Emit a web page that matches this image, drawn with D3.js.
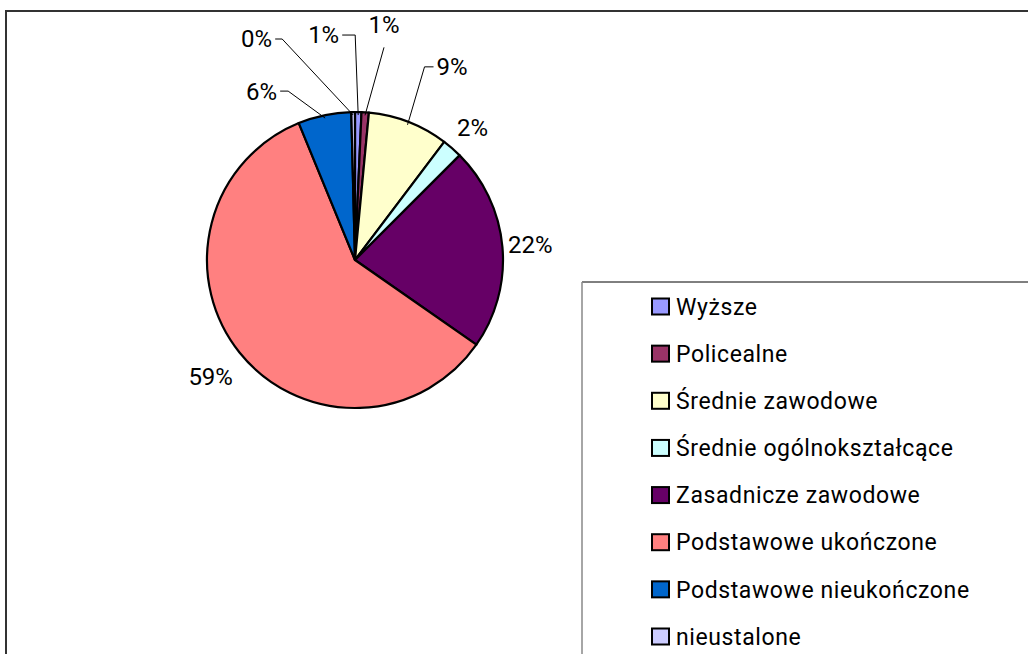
<!DOCTYPE html>
<html>
<head>
<meta charset="utf-8">
<script src="https://cdn.jsdelivr.net/npm/d3@7"></script>
<style>
  body { margin: 0; background: #fff; }
  svg { display: block; }
  text { font-family: Roboto, "Open Sans", sans-serif; fill: #000; }
</style>
</head>
<body>
<svg id="chart" width="1028" height="654"></svg>
<script>
// data (shares in %)
var categories = ["Wyższe", "Policealne", "Średnie zawodowe", "Średnie ogólnokształcące",
  "Zasadnicze zawodowe", "Podstawowe ukończone", "Podstawowe nieukończone", "nieustalone"];
var shares = [0.7, 0.8, 8.8, 2.2, 22.2, 59.1, 5.8, 0.4];
var pctLabels = ["1%", "1%", "9%", "2%", "22%", "59%", "6%", "0%"];
var colors = ["#9999FF", "#993366", "#FFFFCC", "#CCFFFF", "#660066", "#FF8080", "#0066CC", "#CCCCFF"];

// label placement tweaks (leader = dragged label with a line)
var labelNudge = [[0,0],[0,0],[0,0],[2,0],[0,0],[-7,7],[0,0],[0,0]];
var leaders = {
  0: {dx: -3, dy: -80, h: -13, anchor: "end"},
  1: {dx: 19, dy: -68, h: 0, anchor: "middle"},
  2: {dx: 17, dy: -58, h: 9, anchor: "start"},
  6: {dx: -37, dy: -27, h: -8, anchor: "end"},
  7: {dx: -71, dy: -76, h: -7, anchor: "end"}
};

var svg = d3.select("#chart");
var cx = 355, cy = 260, r = 148;

// chart border
svg.append("rect")
  .attr("x", 6).attr("y", 11).attr("width", 1040).attr("height", 660)
  .attr("fill", "none").attr("stroke", "#333").attr("stroke-width", 2);

var pie = d3.pie().sort(null).value(d => d);
var arcs = pie(shares);
var arc = d3.arc().innerRadius(0).outerRadius(r);

var g = svg.append("g").attr("transform", "translate(" + cx + "," + cy + ")");

g.selectAll("path.slice")
  .data(arcs)
  .enter()
  .append("path")
  .attr("class", "slice")
  .attr("d", arc)
  .attr("fill", (d, i) => colors[i])
  .attr("stroke", "#000")
  .attr("stroke-width", 2.2)
  .attr("stroke-linejoin", "round");

function mid(d) { return (d.startAngle + d.endAngle) / 2; }
function polar(a, rad) { return [rad * Math.sin(a), -rad * Math.cos(a)]; }

arcs.forEach(function(d, i) {
  var a = mid(d);
  var ld = leaders[i];
  if (ld) {
    var e = polar(a, r - 3);
    var elbow = [e[0] + ld.dx, e[1] + ld.dy];
    var end = [elbow[0] + ld.h, elbow[1]];
    g.append("path")
      .attr("d", d3.line()([e, elbow, end]))
      .attr("fill", "none")
      .attr("stroke", "#000")
      .attr("stroke-width", 1);
    var tx, ty;
    if (ld.anchor == "middle") { tx = elbow[0]; ty = elbow[1] - 23; }
    else if (ld.anchor == "end") { tx = end[0] - 3; ty = end[1]; }
    else { tx = end[0] + 3; ty = end[1]; }
    g.append("text")
      .attr("x", tx).attr("y", ty)
      .attr("dy", "0.35em")
      .attr("text-anchor", ld.anchor)
      .style("font-size", "24px")
      .text(pctLabels[i]);
  } else {
    var p = polar(a, r + 28);
    g.append("text")
      .attr("x", p[0] + labelNudge[i][0]).attr("y", p[1] + labelNudge[i][1])
      .attr("dy", "0.35em")
      .attr("text-anchor", "middle")
      .style("font-size", "24px")
      .text(pctLabels[i]);
  }
});

// legend
var legend = svg.append("g");
legend.append("line")
  .attr("x1", 582).attr("y1", 282).attr("x2", 1040).attr("y2", 282)
  .attr("stroke", "#000").attr("stroke-width", 1);
legend.append("line")
  .attr("x1", 582).attr("y1", 282).attr("x2", 582).attr("y2", 670)
  .attr("stroke", "#888").attr("stroke-width", 1.5);

var rowY = d3.scalePoint().domain(categories).range([306.5, 636.5]);

var items = legend.selectAll("g.item")
  .data(categories)
  .enter()
  .append("g")
  .attr("class", "item")
  .attr("transform", d => "translate(0," + rowY(d) + ")");

items.append("rect")
  .attr("x", 652).attr("y", -8)
  .attr("width", 17).attr("height", 16)
  .attr("fill", (d, i) => colors[i])
  .attr("stroke", "#000").attr("stroke-width", 2);

items.append("text")
  .attr("x", 676)
  .attr("dy", "0.36em")
  .style("font-size", "23px")
  .style("letter-spacing", "0.6px")
  .text(d => d);
</script>
</body>
</html>
